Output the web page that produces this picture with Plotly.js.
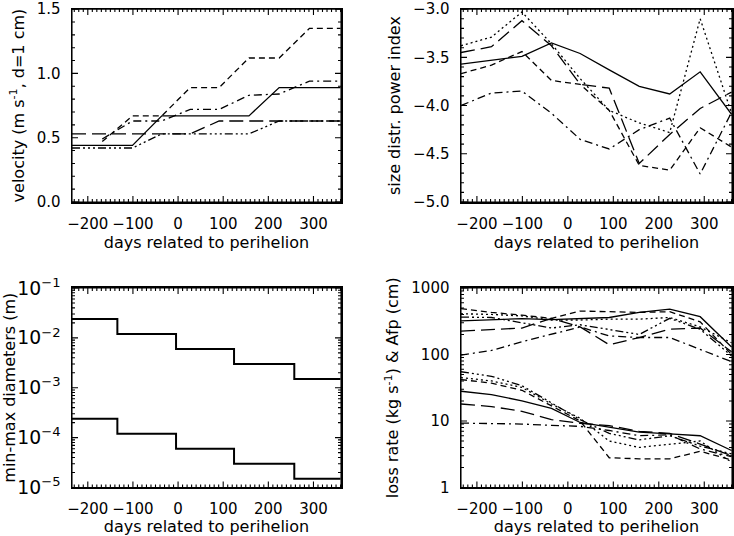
<!DOCTYPE html>
<html>
<head>
<meta charset="utf-8">
<script src="https://cdn.plot.ly/plotly-3.0.1.min.js"></script>
<style>
  html, body { margin: 0; padding: 0; background: #fff; }
  #chart { width: 734px; height: 536px; }
</style>
</head>
<body>
<div id="chart"></div>
<script>
// observation epochs, days related to perihelion
const DAYS = [-235, -168, -101, -36, 27, 91, 157, 224, 291, 360];

// top left: velocity of 1 cm particles (m/s)
const VEL_SOLID   = [0.44, 0.44, 0.44, 0.67, 0.67, 0.67, 0.67, 0.89, 0.89, 0.89];
const VEL_DASH    = [null, 0.47, 0.67, 0.67, 0.89, 0.89, 1.12, 1.12, 1.35, 1.35];
const VEL_DASHDOT = [null, 0.49, 0.63, 0.63, 0.72, 0.72, 0.83, 0.84, 0.94, 0.94];
const VEL_LONG    = [0.53, 0.53, 0.53, 0.53, 0.53, 0.63, 0.63, 0.63, 0.63, 0.63];
const VEL_DDD     = [0.42, 0.42, 0.42, 0.53, 0.53, 0.53, 0.53, 0.63, 0.63, 0.63];

// top right: size distribution power index
const IDX_SOLID   = [-3.57, -3.53, -3.49, -3.35, -3.46, -3.63, -3.80, -3.88, -3.65, -4.09];
const IDX_DDD     = [-3.38, -3.29, -3.03, -3.36, -3.72, -4.05, -4.18, -4.28, -3.10, -4.08];
const IDX_LONG    = [-3.45, -3.39, -3.12, -3.38, -3.78, -3.82, -4.60, -4.30, -4.03, -3.86];
const IDX_DASH    = [-3.67, -3.58, -3.44, -3.74, -3.78, -4.05, -4.62, -4.67, -4.23, -4.43];
const IDX_DASHDOT = [-4.00, -3.87, -3.85, -4.08, -4.35, -4.45, -4.25, -4.13, -4.71, -4.07];

// bottom left: min / max diameters (m)
const DIAM_MAX = [2.4e-2, 2.4e-2, 1.2e-2, 1.2e-2, 6e-3, 6e-3, 3e-3, 3e-3, 1.5e-3, 1.5e-3];
const DIAM_MIN = [2.4e-4, 2.4e-4, 1.2e-4, 1.2e-4, 6e-5, 6e-5, 3e-5, 3e-5, 1.5e-5, 1.5e-5];

// bottom right: Afp (cm), upper group
const AFP_SOLID   = [320, 335, 345, 335, 345, 360, 430, 480, 370, 130];
const AFP_DASH    = [490, 430, 390, 350, 450, 440, 430, 440, 310, 100];
const AFP_DOT     = [410, 400, 380, 330, 330, 340, 340, 360, 260, 150];
const AFP_DDD     = [365, 360, 300, 250, 280, 240, 200, 350, 240, 95];
const AFP_LONG    = [225, 240, 250, 350, 260, 140, 180, 240, 250, 110];
const AFP_DASHDOT = [98, 115, 155, 200, 260, 190, 180, 180, 120, 78];

// bottom right: loss rate (kg/s), lower group
const LOSS_SOLID   = [28, 25, 20, 15.5, 9.5, 8.0, 6.8, 6.4, 6.0, 3.6];
const LOSS_DASH    = [42, 37, 29, 17, 10, 2.8, 2.7, 2.7, 3.5, 2.6];
const LOSS_DOT     = [45, 40, 32, 18, 11, 5.0, 4.0, 4.5, 5.0, 2.4];
const LOSS_DDD     = [55, 47, 34, 19, 10.5, 6.5, 5.2, 6.0, 4.2, 3.2];
const LOSS_LONG    = [18, 16.5, 14, 10.5, 9.2, 8.5, 7.0, 6.5, 4.5, 3.0];
const LOSS_DASHDOT = [9.3, 9.2, 9.0, 8.6, 8.3, 7.2, 6.0, 6.2, 3.8, 2.9];

// axis ranges and tick positions
const X_RANGE = [-235, 361];
const X_MAJOR = [-200, -100, 0, 100, 200, 300];
const VEL_MAJOR = [0, 0.5, 1.0, 1.5];
const IDX_MAJOR = [-5, -4.5, -4, -3.5, -3];
const MINOR_STEPS = [2, 3, 4, 5, 6, 7, 8, 9];

const W = 734, H = 536;
const TOP = [0.6231, 0.983];
const BOT = [0.0905, 0.4627];
const LEFT = [72 / W, 341 / W];
const RIGHT = [461 / W, 732 / W];

function stepTicks(lo, hi, step, skip) {
  const out = [];
  for (let v = lo; v <= hi + 1e-9; v += step) {
    const r = Math.round(v / step) * step;
    if (!skip.some((s) => Math.abs(s - r) < 1e-9)) out.push(r);
  }
  return out;
}

function logTicks(e0, e1) {
  const out = [];
  for (let e = e0; e < e1; e++) MINOR_STEPS.forEach((m) => out.push(m * Math.pow(10, e)));
  return out;
}

const DASH = {
  solid: 'solid',
  dot: '2px,3px',
  dash: '6px,4px',
  dashdot: '8px,4px,2px,4px',
  ddd: '8px,3px,2px,3px,2px,3px,2px,3px',
  long: '14px,6px',
};

function line(y, style, xa, ya, width, shape) {
  return {
    x: DAYS, y: y, xaxis: xa, yaxis: ya,
    mode: 'lines', connectgaps: false, showlegend: false, hoverinfo: 'skip',
    line: { color: '#000', width: width || 1.3, dash: DASH[style], shape: shape || 'linear' },
  };
}

function edgeTrace(xa, ya, xs, ys) {
  return {
    x: xs, y: ys, xaxis: xa, yaxis: ya,
    mode: 'lines', showlegend: false, hoverinfo: 'skip',
    line: { color: '#000', width: 1.1, simplify: false },
  };
}

// IDL-style inward ticks: one continuous zig-zag path along each frame edge
function frameTicks(p) {
  const wpx = (p.xdom[1] - p.xdom[0]) * W;
  const hpx = (p.ydom[1] - p.ydom[0]) * H;
  const xPer = (X_RANGE[1] - X_RANGE[0]) / wpx;
  const yLo = p.yrange[0], yHi = p.yrange[1];
  const yMove = (v, px) => p.log
    ? v * Math.pow(10, px * (Math.log10(yHi) - Math.log10(yLo)) / hpx)
    : v + px * (yHi - yLo) / hpx;

  const xTicks = X_MAJOR.map((v) => [v, 6])
    .concat(stepTicks(-230, 360, 10, X_MAJOR).map((v) => [v, 3]))
    .sort((a, b) => a[0] - b[0]);
  const yTicks = p.yMajor.map((v) => [v, 6])
    .concat(p.yMinor.map((v) => [v, 3]))
    .sort((a, b) => a[0] - b[0]);

  const out = [];
  [[yLo, 1], [yHi, -1]].forEach(([edge, dir]) => {
    const xs = [X_RANGE[0]], ys = [edge];
    xTicks.forEach(([v, len]) => {
      xs.push(v, v, v);
      ys.push(edge, yMove(edge, dir * len), edge);
    });
    xs.push(X_RANGE[1]); ys.push(edge);
    out.push(edgeTrace(p.xa, p.ya, xs, ys));
  });
  [[X_RANGE[0], 1], [X_RANGE[1], -1]].forEach(([edge, dir]) => {
    const xs = [edge], ys = [yLo];
    yTicks.forEach(([v, len]) => {
      xs.push(edge, edge + dir * len * xPer, edge);
      ys.push(v, v, v);
    });
    xs.push(edge); ys.push(yHi);
    out.push(edgeTrace(p.xa, p.ya, xs, ys));
  });
  return out;
}

const traces = [
  line(VEL_SOLID, 'solid', 'x', 'y'),
  line(VEL_DASH, 'dash', 'x', 'y'),
  line(VEL_DASHDOT, 'dashdot', 'x', 'y'),
  line(VEL_LONG, 'long', 'x', 'y'),
  line(VEL_DDD, 'ddd', 'x', 'y'),

  line(IDX_SOLID, 'solid', 'x2', 'y2'),
  line(IDX_DDD, 'dot', 'x2', 'y2'),
  line(IDX_LONG, 'long', 'x2', 'y2'),
  line(IDX_DASH, 'dash', 'x2', 'y2'),
  line(IDX_DASHDOT, 'dashdot', 'x2', 'y2'),

  line(DIAM_MAX, 'solid', 'x3', 'y3', 2, 'hvh'),
  line(DIAM_MIN, 'solid', 'x3', 'y3', 2, 'hvh'),

  line(AFP_SOLID, 'solid', 'x4', 'y4'),
  line(AFP_DASH, 'dash', 'x4', 'y4'),
  line(AFP_DOT, 'dot', 'x4', 'y4'),
  line(AFP_DDD, 'ddd', 'x4', 'y4'),
  line(AFP_LONG, 'long', 'x4', 'y4'),
  line(AFP_DASHDOT, 'dashdot', 'x4', 'y4'),
  line(LOSS_SOLID, 'solid', 'x4', 'y4'),
  line(LOSS_DASH, 'dash', 'x4', 'y4'),
  line(LOSS_DOT, 'dot', 'x4', 'y4'),
  line(LOSS_DDD, 'ddd', 'x4', 'y4'),
  line(LOSS_LONG, 'long', 'x4', 'y4'),
  line(LOSS_DASHDOT, 'dashdot', 'x4', 'y4'),
].concat(
  frameTicks({ xa: 'x', ya: 'y', xdom: LEFT, ydom: TOP, yrange: [0, 1.5], log: false,
    yMajor: VEL_MAJOR, yMinor: stepTicks(0.1, 1.4, 0.1, VEL_MAJOR) }),
  frameTicks({ xa: 'x2', ya: 'y2', xdom: RIGHT, ydom: TOP, yrange: [-5, -3], log: false,
    yMajor: IDX_MAJOR, yMinor: stepTicks(-4.9, -3.1, 0.1, IDX_MAJOR) }),
  frameTicks({ xa: 'x3', ya: 'y3', xdom: LEFT, ydom: BOT, yrange: [1e-5, 1e-1], log: true,
    yMajor: [1e-5, 1e-4, 1e-3, 1e-2, 1e-1], yMinor: logTicks(-5, -1) }),
  frameTicks({ xa: 'x4', ya: 'y4', xdom: RIGHT, ydom: BOT, yrange: [1, 1000], log: true,
    yMajor: [1, 10, 100, 1000], yMinor: logTicks(0, 3) })
);

const FONT = { family: 'DejaVu Sans, Liberation Sans, sans-serif', size: 15, color: '#000' };
const TITLE_FONT = { family: 'DejaVu Sans, Liberation Sans, sans-serif', size: 16, color: '#000' };

function common() {
  return {
    ticks: '', showline: true, linecolor: '#000', linewidth: 1.5, mirror: true,
    showgrid: false, zeroline: false, tickfont: FONT,
    ticklabelstandoff: 7, ticklabeloverflow: 'allow',
  };
}

function xAxis(dom, anchor) {
  return Object.assign(common(), {
    domain: dom, anchor: anchor, range: X_RANGE,
    tickmode: 'array', tickvals: X_MAJOR,
    title: { text: 'days related to perihelion', font: TITLE_FONT, standoff: 5 },
  });
}

function yAxis(dom, anchor, extra) {
  return Object.assign(common(), { domain: dom, anchor: anchor }, extra);
}

const layout = {
  width: W, height: H,
  margin: { l: 0, r: 0, t: 0, b: 0 },
  paper_bgcolor: '#fff', plot_bgcolor: '#fff',
  showlegend: false,
  xaxis: xAxis(LEFT, 'y'),
  xaxis2: xAxis(RIGHT, 'y2'),
  xaxis3: xAxis(LEFT, 'y3'),
  xaxis4: xAxis(RIGHT, 'y4'),
  yaxis: yAxis(TOP, 'x', {
    range: [0, 1.5], tickmode: 'array', tickvals: VEL_MAJOR, tickformat: '.1f',
    title: { text: 'velocity (m s<sup>-1</sup>, d=1 cm)', font: TITLE_FONT, standoff: 8 },
  }),
  yaxis2: yAxis(TOP, 'x2', {
    range: [-5, -3], tickmode: 'array', tickvals: IDX_MAJOR, tickformat: '.1f',
    title: { text: 'size distr. power index', font: TITLE_FONT, standoff: 8 },
  }),
  yaxis3: yAxis(BOT, 'x3', {
    type: 'log', range: [-5, -1], dtick: 1, exponentformat: 'power',
    title: { text: 'min-max diameters (m)', font: TITLE_FONT, standoff: 8 },
  }),
  yaxis4: yAxis(BOT, 'x4', {
    type: 'log', range: [0, 3], dtick: 1, tickformat: '.0f',
    title: { text: 'loss rate (kg s<sup>-1</sup>) &amp; Afp (cm)', font: TITLE_FONT, standoff: 8 },
  }),
};

Plotly.newPlot('chart', traces, layout, { staticPlot: true, displayModeBar: false });
</script>
</body>
</html>
